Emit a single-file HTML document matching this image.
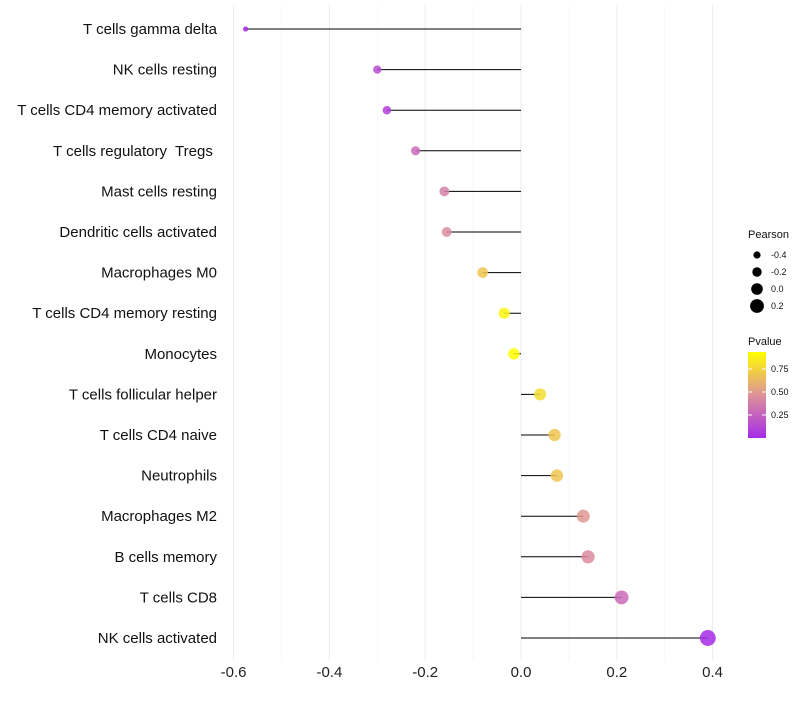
<!DOCTYPE html>
<html><head><meta charset="utf-8"><style>
body{margin:0;background:#fff;font-family:"Liberation Sans",sans-serif}
text{white-space:pre}
</style></head><body>
<svg id="chart" width="800" height="700" xmlns="http://www.w3.org/2000/svg" xml:space="preserve">
<g id="grid"></g>
<g id="marks"></g>
<g id="ylab"></g>
<g id="xlab"></g>
<g id="legend"></g>
</svg>
<script>
const categories=["T cells gamma delta","NK cells resting","T cells CD4 memory activated","T cells regulatory  Tregs ","Mast cells resting","Dendritic cells activated","Macrophages M0","T cells CD4 memory resting","Monocytes","T cells follicular helper","T cells CD4 naive","Neutrophils","Macrophages M2","B cells memory","T cells CD8","NK cells activated"];
const pearson=[-0.575,-0.30,-0.28,-0.22,-0.16,-0.155,-0.08,-0.035,-0.015,0.04,0.07,0.075,0.13,0.14,0.21,0.39];
const pvalues=[0.05,0.2,0.15,0.35,0.45,0.5,0.75,0.95,1.0,0.85,0.75,0.75,0.55,0.5,0.35,0.05];
const xTicks=[-0.6,-0.4,-0.2,0.0,0.2,0.4];
const xMinor=[-0.5,-0.3,-0.1,0.1,0.3];
const sizeLegend=[-0.4,-0.2,0.0,0.2];
const colorTicks=[0.25,0.5,0.75];
const NS="http://www.w3.org/2000/svg";
const x=v=>521+v*479;
const y=i=>29+i*40.6;
const r=v=>5.8+v*5.5;
function col(p){
 const stops=[[0,[160,32,240]],[0.5,[220,140,160]],[1,[255,255,0]]];
 let a=stops[0],b=stops[1];if(p>0.5){a=stops[1];b=stops[2];}
 const t=(p-a[0])/(b[0]-a[0]);
 return "rgb("+a[1].map((c,k)=>Math.round(c+(b[1][k]-c)*t)).join(",")+")";
}
function mk(tag,attrs,parent){const e=document.createElementNS(NS,tag);for(const k in attrs)e.setAttribute(k,attrs[k]);document.getElementById(parent).appendChild(e);return e;}
xMinor.forEach(v=>{const l=mk("line",{x1:x(v),x2:x(v),y1:5,y2:660,stroke:"#f2f2f2","stroke-width":0.6},"grid");

});
xTicks.forEach(v=>{const l=mk("line",{x1:x(v),x2:x(v),y1:5,y2:660,stroke:"#ebebeb","stroke-width":1},"grid");


const t=mk("text",{x:x(v),y:677,"text-anchor":"middle","font-size":15,fill:"#222"},"xlab");t.textContent=v.toFixed(1);

});
categories.forEach((c,i)=>{
 const t=mk("text",{x:217,y:y(i)+5,"text-anchor":"end","font-size":15,fill:"#111"},"ylab");t.textContent=c;
 
 
 const l=mk("line",{x1:x(0),x2:x(pearson[i]),y1:y(i),y2:y(i),stroke:"#000","stroke-width":1},"marks");
 
 
 const p=mk("circle",{cx:x(pearson[i]),cy:y(i),r:r(pearson[i]),fill:col(pvalues[i]),"fill-opacity":0.85},"marks");
 
 
});
let tt=mk("text",{x:748,y:238,"font-size":11,fill:"#111"},"legend");tt.textContent="Pearson";


sizeLegend.forEach((v,i)=>{const cy=255+i*17;
 const c=mk("circle",{cx:757,cy:cy,r:r(v),fill:"#000"},"legend");
 
 
 const t=mk("text",{x:771,y:cy+3,"font-size":9,fill:"#111"},"legend");t.textContent=v.toFixed(1);
 
 });
tt=mk("text",{x:748,y:345,"font-size":11,fill:"#111"},"legend");tt.textContent="Pvalue";


const defs=mk("defs",{},"legend");
const g=document.createElementNS(NS,"linearGradient");g.setAttribute("id","pg");g.setAttribute("x1","0");g.setAttribute("y1","1");g.setAttribute("x2","0");g.setAttribute("y2","0");defs.appendChild(g);
[0,0.25,0.5,0.75,1].forEach(s=>{const st=document.createElementNS(NS,"stop");st.setAttribute("offset",s);st.setAttribute("stop-color",col(0.05+s*0.95));g.appendChild(st);});
const bar=mk("rect",{x:748,y:352,width:18,height:86,fill:"url(#pg)"},"legend");


colorTicks.forEach(v=>{const yy=438-v*92;
 mk("line",{x1:748,x2:752,y1:yy,y2:yy,stroke:"#fff"},"legend");
 mk("line",{x1:762,x2:766,y1:yy,y2:yy,stroke:"#fff"},"legend");
 const t=mk("text",{x:771,y:yy+3,"font-size":9,fill:"#111"},"legend");t.textContent=v.toFixed(2);
 
 });
</script>
</body></html>
